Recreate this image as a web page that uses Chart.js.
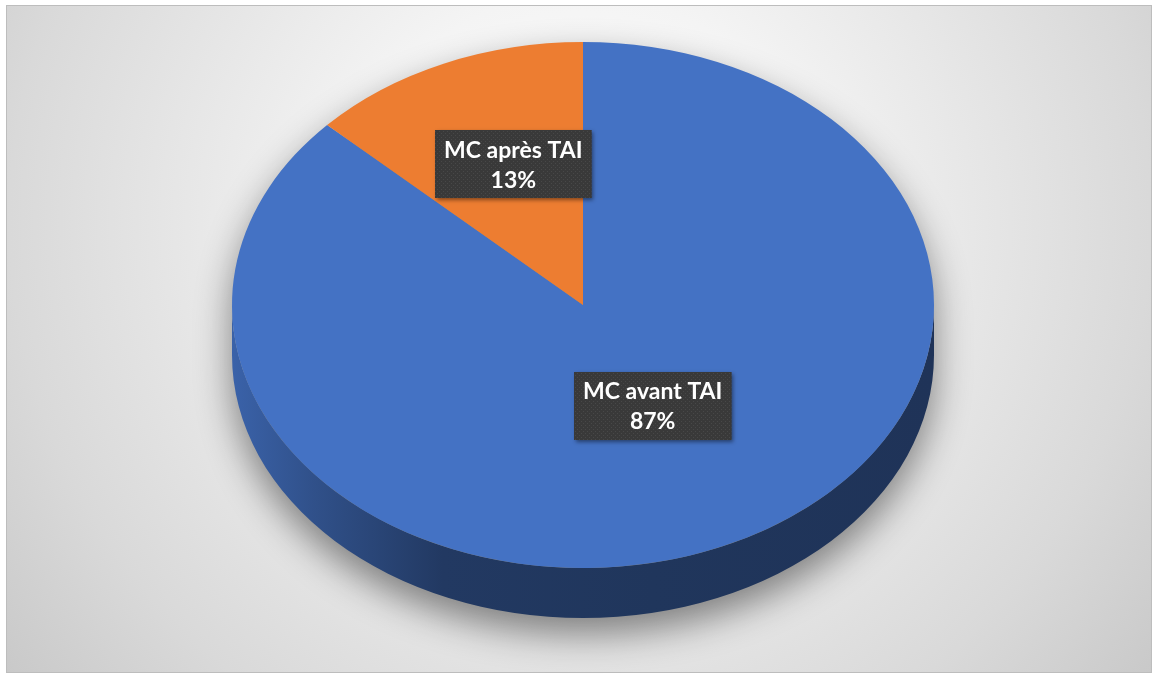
<!DOCTYPE html>
<html>
<head>
<meta charset="utf-8">
<script src="https://cdn.jsdelivr.net/npm/chart.js@4.4.1/dist/chart.umd.min.js"></script>
<style>
  html, body { margin: 0; padding: 0; background: #fff; }
  canvas { display: block; }
</style>
</head>
<body>
<canvas id="mc-pie" width="1156" height="678"></canvas>
<script>
var categories = ['MC avant TAI', 'MC après TAI'];
var shares = [87, 13];
var sliceColors = ['#4472c4', '#ed7d31'];

// top face of the tilted pie, and how thick the rim is
var CX = 583, CY = 305, RX = 351, RY = 263, DEPTH = 50;
var labelLift = -20;

function shade(hex, f) {
    var n = parseInt(hex.slice(1), 16);
    var r = Math.round(((n >> 16) & 255) * f);
    var g = Math.round(((n >> 8) & 255) * f);
    var b = Math.round((n & 255) * f);
    return 'rgb(' + r + ',' + g + ',' + b + ')';
}

// little dotted tile for the label boxes
var tile = document.createElement('canvas');
tile.width = 4; tile.height = 4;
var tctx = tile.getContext('2d');
tctx.fillStyle = '#393939';
tctx.fillRect(0, 0, 4, 4);
tctx.fillStyle = '#484848';
tctx.fillRect(1, 1, 1, 1);
tctx.fillRect(3, 3, 1, 1);

var background = {
    id: 'background',
    beforeDraw: function(chart) {
        var ctx = chart.ctx;
        ctx.save();
        ctx.fillStyle = '#fff';
        ctx.fillRect(0, 0, chart.width, chart.height);
        var g = ctx.createRadialGradient(580, 220, 0, 580, 220, 760);
        g.addColorStop(0, '#ffffff');
        g.addColorStop(0.3, '#f4f4f4');
        g.addColorStop(0.75, '#d9d9d9');
        g.addColorStop(1, '#c6c6c6');
        ctx.fillStyle = g;
        ctx.fillRect(6, 5, 1146, 668);
        ctx.strokeStyle = '#bdbdbd';
        ctx.lineWidth = 1;
        ctx.strokeRect(6.5, 5.5, 1145, 667);
        ctx.restore();
    }
};

// pieces of [a0, a1] that face the viewer (canvas angles 0..PI)
function frontParts(a0, a1) {
    var parts = [];
    [-2 * Math.PI, 0, 2 * Math.PI].forEach(function(off) {
        var s = Math.max(a0, off), e = Math.min(a1, off + Math.PI);
        if (e > s) parts.push([s, e]);
    });
    return parts;
}

function drawLabel(ctx, cx, cy, lines, pattern) {
    ctx.font = 'bold 23px Lato';
    var w = Math.max(ctx.measureText(lines[0]).width, ctx.measureText(lines[1]).width) + 18;
    var h = 68;
    var x = Math.round(cx - w / 2), y = Math.round(cy - h / 2);
    ctx.save();
    ctx.shadowColor = 'rgba(0,0,0,0.45)';
    ctx.shadowBlur = 4;
    ctx.shadowOffsetX = 2;
    ctx.shadowOffsetY = 2;
    ctx.fillStyle = '#393939';
    ctx.fillRect(x, y, w, h);
    ctx.restore();
    ctx.fillStyle = pattern;
    ctx.fillRect(x, y, w, h);
    ctx.fillStyle = '#ffffff';
    ctx.textAlign = 'center';
    ctx.textBaseline = 'middle';
    ctx.fillText(lines[0], cx, cy - 14);
    ctx.fillText(lines[1], cx, cy + 16);
}

var tilt = {
    id: 'tilt',
    beforeDatasetsDraw: function(chart) {
        var ctx = chart.ctx;
        var arcs = chart.getDatasetMeta(0).data;

        // soft shadow under the disc (shape drawn off-canvas, only its shadow lands)
        ctx.save();
        ctx.shadowColor = 'rgba(0,0,0,0.45)';
        ctx.shadowBlur = 36;
        ctx.shadowOffsetX = 5000;
        ctx.shadowOffsetY = 16;
        ctx.fillStyle = '#000';
        ctx.beginPath();
        ctx.ellipse(CX - 5000, CY, RX, RY, 0, Math.PI, 0, false);
        ctx.ellipse(CX - 5000, CY + DEPTH, RX, RY, 0, 0, Math.PI, false);
        ctx.closePath();
        ctx.fill();
        ctx.restore();

        // rim of each slice
        arcs.forEach(function(arc, i) {
            var p = arc.getProps(['startAngle', 'endAngle'], true);
            var base = sliceColors[i];
            var g = ctx.createLinearGradient(CX - RX, 0, CX + RX, 0);
            g.addColorStop(0, shade(base, 0.86));
            g.addColorStop(0.12, shade(base, 0.7));
            g.addColorStop(0.3, shade(base, 0.5));
            g.addColorStop(0.6, shade(base, 0.47));
            g.addColorStop(1, shade(base, 0.45));
            frontParts(p.startAngle, p.endAngle).forEach(function(seg) {
                ctx.beginPath();
                ctx.ellipse(CX, CY, RX, RY, 0, seg[0], seg[1], false);
                ctx.ellipse(CX, CY + DEPTH, RX, RY, 0, seg[1], seg[0], true);
                ctx.closePath();
                ctx.fillStyle = g;
                ctx.fill();
            });
        });

        // squash the flat pie onto the top face
        var a = arcs[0].getProps(['x', 'y', 'outerRadius'], true);
        ctx.save();
        ctx.translate(CX, CY);
        ctx.scale(RX / a.outerRadius, RY / a.outerRadius);
        ctx.translate(-a.x, -a.y);
    },
    afterDatasetsDraw: function(chart) {
        var ctx = chart.ctx;
        ctx.restore();

        var total = shares.reduce(function(s, v) { return s + v; }, 0);
        var pattern = ctx.createPattern(tile, 'repeat');
        chart.getDatasetMeta(0).data.forEach(function(arc, i) {
            var p = arc.getProps(['startAngle', 'endAngle'], true);
            var mid = (p.startAngle + p.endAngle) / 2;
            var lx = CX + RX * 0.5 * Math.cos(mid);
            var ly = CY + RY * 0.5 * Math.sin(mid) + labelLift;
            var pct = Math.round(shares[i] / total * 100) + '%';
            drawLabel(ctx, lx, ly, [categories[i], pct], pattern);
        });
    }
};

var ctx = document.getElementById('mc-pie');
var myPieChart = new Chart(ctx, {
    type: 'pie',
    data: {
        labels: categories,
        datasets: [{
            data: shares,
            backgroundColor: sliceColors,
            borderWidth: 0
        }]
    },
    options: {
        responsive: false,
        animation: false,
        devicePixelRatio: 1,
        plugins: {
            legend: { display: false },
            tooltip: { enabled: false }
        }
    },
    plugins: [background, tilt]
});
</script>
</body>
</html>
